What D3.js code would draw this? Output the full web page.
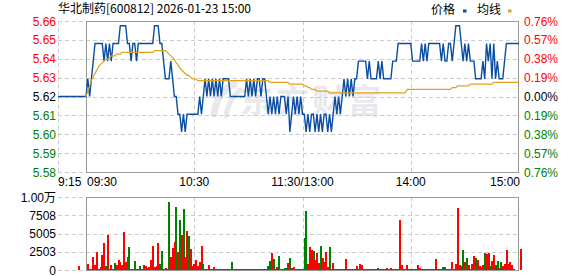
<!DOCTYPE html>
<html><head><meta charset="utf-8">
<script src="https://cdn.jsdelivr.net/npm/d3@7"></script>
<style>
html,body{margin:0;padding:0;background:#fff;}
svg{display:block;font-family:"Liberation Sans",Arial,"Noto Sans CJK SC",sans-serif;}
</style></head>
<body>
<svg id="c" width="578" height="276"></svg>
<script>
// ---------------- data ----------------
const title = "华北制药[600812] 2026-01-23 15:00";
const prevClose = 5.62;
const pctRange = 0.0076;
const priceLabels = ["5.66","5.65","5.64","5.63","5.62","5.61","5.60","5.59","5.58"];
const pctLabels = ["0.76%","0.57%","0.38%","0.19%","0.00%","0.19%","0.38%","0.57%","0.76%"];
const timeLabels = ["9:15","09:30","10:30","11:30/13:00","14:00","15:00"];
const timeTicks = [-15, 0, 60, 120, 180, 240];
const volTickValues = [0, 2503, 5005, 7508, 10010];
const volTickLabels = ["0","2503","5005","7508","1.00万"];
const legendNames = ["价格","均线"];

// pre-market (9:15 - 9:30)
const preTimes = [-15, 0];
const prePrices = [5.62, 5.62];
const preVolTime = [-5];
const preVolume = [545];
const preVolDir = [1];

// minute prices 09:30 .. 15:00 (241 points)
const prices = [
5.62,5.63,5.62,5.63,5.64,5.65,5.65,5.65,5.65,5.65,
5.64,5.65,5.64,5.65,5.64,5.65,5.65,5.65,5.65,5.66,
5.66,5.66,5.66,5.65,5.65,5.64,5.65,5.65,5.64,5.65,
5.65,5.65,5.65,5.65,5.65,5.65,5.65,5.65,5.66,5.66,
5.66,5.65,5.65,5.64,5.63,5.63,5.63,5.64,5.63,5.62,
5.62,5.61,5.61,5.60,5.61,5.60,5.61,5.61,5.61,5.61,
5.61,5.61,5.61,5.62,5.61,5.62,5.63,5.62,5.63,5.62,
5.63,5.62,5.63,5.62,5.63,5.62,5.63,5.63,5.63,5.63,
5.62,5.62,5.62,5.62,5.62,5.62,5.62,5.62,5.62,5.63,
5.62,5.63,5.62,5.63,5.62,5.63,5.63,5.62,5.63,5.63,
5.62,5.61,5.62,5.61,5.62,5.61,5.62,5.61,5.62,5.62,
5.62,5.61,5.62,5.60,5.61,5.62,5.61,5.62,5.61,5.62,
5.61,5.61,5.60,5.61,5.60,5.61,5.61,5.60,5.61,5.60,
5.61,5.60,5.61,5.61,5.60,5.61,5.60,5.61,5.62,5.61,
5.62,5.61,5.62,5.63,5.62,5.63,5.62,5.63,5.62,5.63,
5.63,5.64,5.64,5.64,5.64,5.64,5.63,5.64,5.63,5.63,
5.63,5.63,5.64,5.63,5.64,5.63,5.63,5.63,5.63,5.63,
5.64,5.64,5.64,5.65,5.65,5.65,5.65,5.65,5.65,5.65,
5.65,5.64,5.64,5.64,5.64,5.64,5.65,5.64,5.65,5.64,
5.65,5.65,5.65,5.65,5.65,5.65,5.65,5.64,5.65,5.64,
5.64,5.65,5.65,5.64,5.65,5.66,5.66,5.66,5.65,5.64,
5.65,5.64,5.65,5.64,5.64,5.64,5.63,5.63,5.63,5.63,
5.64,5.63,5.65,5.64,5.65,5.63,5.65,5.63,5.64,5.63,
5.63,5.63,5.64,5.65,5.65,5.65,5.65,5.65,5.65,5.65,
5.65];

// average price line (241 points)
const avgPrices = [
5.620,5.623,5.626,5.629,5.631,5.633,5.635,5.637,5.638,5.639,
5.640,5.641,5.641,5.642,5.643,5.643,5.643,5.644,5.644,5.644,
5.645,5.645,5.645,5.645,5.645,5.645,5.645,5.645,5.645,5.645,
5.645,5.645,5.645,5.645,5.645,5.645,5.645,5.645,5.646,5.646,
5.646,5.646,5.646,5.646,5.646,5.645,5.644,5.643,5.642,5.641,
5.639,5.638,5.636,5.635,5.634,5.633,5.632,5.632,5.631,5.630,
5.630,5.630,5.629,5.629,5.629,5.629,5.629,5.629,5.629,5.629,
5.629,5.629,5.629,5.629,5.629,5.629,5.629,5.629,5.629,5.629,
5.629,5.629,5.629,5.629,5.629,5.629,5.629,5.629,5.629,5.629,
5.629,5.629,5.629,5.629,5.629,5.629,5.629,5.629,5.629,5.629,
5.629,5.629,5.628,5.628,5.628,5.628,5.628,5.628,5.628,5.628,
5.628,5.628,5.628,5.627,5.627,5.627,5.627,5.627,5.627,5.627,
5.627,5.626,5.626,5.625,5.625,5.624,5.624,5.624,5.623,5.623,
5.623,5.623,5.623,5.623,5.623,5.622,5.622,5.622,5.622,5.622,
5.622,5.622,5.622,5.622,5.622,5.622,5.622,5.622,5.622,5.622,
5.622,5.622,5.622,5.622,5.622,5.622,5.622,5.622,5.622,5.622,
5.622,5.622,5.622,5.622,5.622,5.622,5.622,5.622,5.622,5.622,
5.622,5.622,5.622,5.622,5.622,5.622,5.622,5.622,5.624,5.624,
5.624,5.624,5.624,5.624,5.624,5.624,5.624,5.624,5.624,5.624,
5.624,5.624,5.624,5.624,5.624,5.624,5.624,5.624,5.624,5.624,
5.624,5.624,5.624,5.625,5.625,5.625,5.626,5.626,5.626,5.626,
5.626,5.626,5.626,5.627,5.627,5.627,5.627,5.627,5.627,5.627,
5.627,5.627,5.627,5.627,5.627,5.627,5.628,5.628,5.628,5.628,
5.628,5.628,5.628,5.628,5.628,5.628,5.628,5.628,5.628,5.628,
5.628];

// minute volumes (241 points)
const volumes = [
818,136,136,1727,636,2500,100,400,2045,3680,
545,4770,136,680,180,900,680,1360,1136,680,
5180,1090,1770,3136,136,136,1270,136,136,545,
136,636,590,270,360,1318,3270,360,500,3770,
860,2590,136,270,136,9270,1770,3050,3820,8590,
2500,6860,4770,8320,1727,5320,4680,2900,590,770,
1400,550,1090,3270,818,136,136,636,136,136,
400,136,136,136,136,136,136,136,136,136,
1090,136,136,136,136,136,136,136,136,136,
136,136,136,136,136,136,136,136,136,150,
545,1227,2318,1500,150,360,1909,136,136,230,
270,955,1636,270,410,136,136,180,136,136,
4360,8045,818,3136,2727,2590,1360,2318,955,3270,
1636,1136,2450,410,3136,136,955,136,136,136,
136,136,136,1500,136,136,136,136,136,545,
136,818,680,136,136,136,136,136,136,136,
136,270,136,136,136,136,270,136,220,136,
136,136,136,6820,680,136,136,680,136,136,
136,136,136,680,300,136,136,136,136,136,
136,136,136,1500,136,136,136,410,410,136,
136,136,1090,136,818,8450,680,545,2727,1090,
1636,680,180,818,1909,1636,1360,545,410,680,
2318,2180,2318,545,1227,2045,680,1227,270,1090,
545,818,2727,818,1090,680,136,0,0,0,
2863];

// 1 = up (red), -1 = down (green)
const volDir = [
1,-1,-1,1,1,1,-1,1,1,1,
-1,1,-1,1,1,-1,1,1,1,1,
1,1,1,-1,1,1,-1,1,1,-1,
1,1,1,1,1,1,1,1,1,1,
-1,-1,1,1,-1,-1,1,1,1,-1,
1,-1,1,-1,1,1,-1,1,1,1,
1,1,1,1,-1,1,-1,1,1,1,
1,-1,1,-1,1,1,-1,1,1,-1,
-1,1,1,-1,1,1,1,-1,1,1,
1,1,-1,1,1,1,-1,1,-1,-1,
-1,-1,1,-1,1,1,-1,1,1,-1,
-1,1,-1,1,1,1,1,-1,-1,1,
-1,-1,1,1,1,-1,1,1,1,-1,
1,1,1,1,-1,1,1,1,-1,1,
1,1,1,1,1,-1,1,1,1,1,
1,1,1,1,1,-1,1,1,1,1,
1,-1,1,1,1,1,1,1,1,-1,
1,1,1,1,1,1,1,1,1,-1,
1,-1,1,1,1,1,1,-1,1,1,
1,1,1,1,1,-1,1,-1,-1,1,
1,1,1,-1,1,1,1,1,-1,1,
-1,1,-1,1,1,-1,1,1,1,1,
-1,1,1,-1,1,1,-1,-1,1,-1,
1,1,1,1,1,1,-1,1,1,1,
1];

// ---------------- drawing ----------------
const svg = d3.select("#c");
const C = {red:"#ff0000", green:"#008000", grid:"#cccccc", frame:"#999999",
           price:"#0a4ea3", avg:"#e0a21c", wm:"#e9e9ed"};

const x = d3.scaleLinear().domain([-15, 0, 240]).range([58, 86, 519]);
const y = d3.scaleLinear().domain([prevClose*(1-pctRange), prevClose*(1+pctRange)]).range([172, 21]);
const v = d3.scaleLinear().domain([0, 10010]).range([270, 197]);

const gridLevels = d3.range(9).map(i => prevClose*(1 + pctRange*(1 - i/4)));

// watermark
const wm = svg.append("g");
wm.append("path").attr("d","M214,114 C216,100 222,90 234,84").attr("fill","none")
  .attr("stroke",C.wm).attr("stroke-width",7).attr("stroke-linecap","round");
wm.append("path").attr("d","M226,116 C228,104 232,96 240,90").attr("fill","none")
  .attr("stroke",C.wm).attr("stroke-width",5).attr("stroke-linecap","round");
wm.append("text").attr("x",240).attr("y",113).attr("font-size",33).attr("font-weight","bold")
  .attr("font-family","Noto Sans CJK SC").attr("letter-spacing",3).attr("fill",C.wm).text("东方财富");

// title & legend
svg.append("text").attr("x",58).attr("y",13).attr("font-size",12)
  .attr("font-family","Noto Sans CJK SC, Liberation Sans").attr("fill","#000").text(title);
const lg = svg.append("g").attr("font-size",12).attr("font-family","Noto Sans CJK SC");
lg.append("text").attr("x",431).attr("y",14).text(legendNames[0]);
lg.append("rect").attr("x",463).attr("y",9.5).attr("width",3.5).attr("height",3).attr("fill",C.price);
lg.append("text").attr("x",477).attr("y",14).text(legendNames[1]);
lg.append("rect").attr("x",508).attr("y",9.5).attr("width",3.5).attr("height",3).attr("fill",C.avg);

// main grid
const g = svg.append("g");
g.selectAll("line.h").data(gridLevels).join("line")
  .attr("x1",58).attr("x2",519).attr("y1",d=>Math.round(y(d))+0.5).attr("y2",d=>Math.round(y(d))+0.5)
  .attr("stroke",C.grid).attr("stroke-dasharray","4,3");
g.selectAll("line.v").data([-15,60,120,180]).join("line")
  .attr("x1",d=>Math.round(x(d))+0.5).attr("x2",d=>Math.round(x(d))+0.5).attr("y1",21).attr("y2",172)
  .attr("stroke",C.grid).attr("stroke-dasharray","4,3");
g.append("rect").attr("x",86.5).attr("y",21.5).attr("width",432).attr("height",151)
  .attr("fill","none").attr("stroke",C.frame);

// left and right labels
const colorFor = i => i < 4 ? C.red : (i === 4 ? "#000" : C.green);
svg.append("g").selectAll("text").data(priceLabels).join("text")
  .attr("x",56).attr("y",(d,i)=>y(gridLevels[i])+4.5).attr("text-anchor","end")
  .attr("font-size",12).attr("fill",(d,i)=>colorFor(i)).text(d=>d);
svg.append("g").selectAll("text").data(pctLabels).join("text")
  .attr("x",524).attr("y",(d,i)=>y(gridLevels[i])+4.5)
  .attr("font-size",12).attr("fill",(d,i)=>colorFor(i)).text(d=>d);

// time labels
svg.append("g").selectAll("text").data(timeLabels).join("text")
  .attr("x",(d,i)=> i===0 ? x(timeTicks[i]) : (i===1 || i===5) ? x(timeTicks[i])+1 : x(timeTicks[i]))
  .attr("y",186)
  .attr("text-anchor",(d,i)=> i<2 ? "start" : (i===5 ? "end" : "middle"))
  .attr("font-size",12).attr("fill","#000").text(d=>d);

// lines
const line = d3.line().x(d=>x(d[0])).y(d=>y(d[1]));
const prePts = preTimes.map((t,i)=>[t, prePrices[i]]);
const pricePts = prices.map((p,i)=>[i,p]);
svg.append("path").attr("d", line(prePts.concat(pricePts))).attr("fill","none")
  .attr("stroke",C.price).attr("stroke-width",1.4).attr("stroke-linejoin","miter");
svg.append("path").attr("d", line(avgPrices.map((p,i)=>[i,p]))).attr("fill","none")
  .attr("stroke",C.avg).attr("stroke-width",1.2);

// volume grid
const vg = svg.append("g");
vg.selectAll("line.h").data(volTickValues).join("line")
  .attr("x1",58).attr("x2",519).attr("y1",d=>Math.round(v(d))+0.5).attr("y2",d=>Math.round(v(d))+0.5)
  .attr("stroke",C.grid).attr("stroke-dasharray","4,3");
vg.selectAll("line.v").data([60,120,180]).join("line")
  .attr("x1",d=>Math.round(x(d))+0.5).attr("x2",d=>Math.round(x(d))+0.5).attr("y1",197).attr("y2",270)
  .attr("stroke",C.grid).attr("stroke-dasharray","4,3");

// volume bars
const bars = preVolTime.map((t,i)=>({t, v:preVolume[i], d:preVolDir[i]}))
  .concat(volumes.map((val,i)=>({t:i, v:val, d:volDir[i]})));
svg.append("g").attr("shape-rendering","crispEdges").selectAll("rect").data(bars).join("rect")
  .attr("x",d=>Math.round(x(d.t))+1).attr("width",1.5)
  .attr("y",d=>v(d.v)).attr("height",d=>270 - v(d.v))
  .attr("fill",d=>d.d>0 ? C.red : C.green);

vg.append("rect").attr("x",86.5).attr("y",197.5).attr("width",432).attr("height",73)
  .attr("fill","none").attr("stroke",C.frame);

svg.append("g").selectAll("text").data(volTickLabels).join("text")
  .attr("x",56).attr("y",(d,i)=>v(volTickValues[i])+4.5).attr("text-anchor","end")
  .attr("font-size",12).attr("font-family","Liberation Sans, Noto Sans CJK SC").attr("fill","#000").text(d=>d);
</script>
</body></html>
